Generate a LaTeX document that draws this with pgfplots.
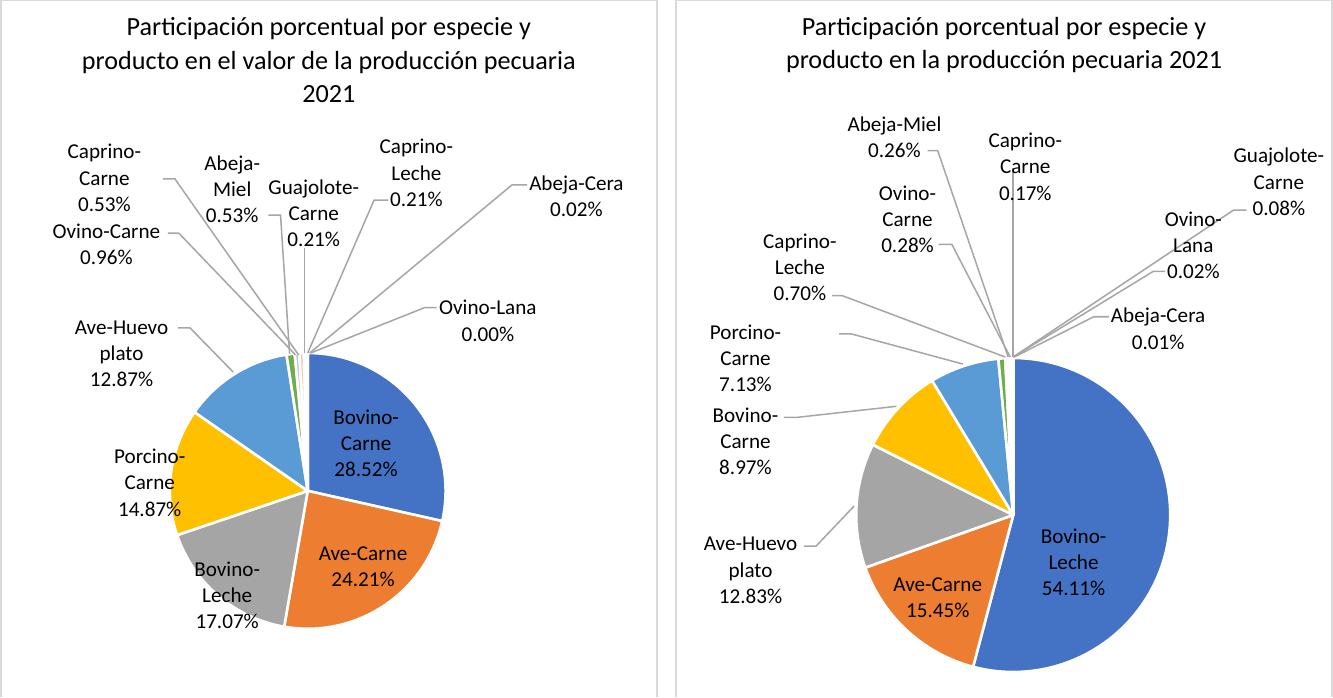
\documentclass[border=0pt]{standalone}
\usepackage{fontspec}
\setmainfont{Carlito}
\usepackage{pgfplots}
\usepackage{pgfplotstable}
\pgfplotsset{compat=1.18}

% slice colours
\definecolor{c0}{HTML}{4472C4}
\definecolor{c1}{HTML}{ED7D31}
\definecolor{c2}{HTML}{A5A5A5}
\definecolor{c3}{HTML}{FFC000}
\definecolor{c4}{HTML}{5B9BD5}
\definecolor{c5}{HTML}{70AD47}
\definecolor{c6}{HTML}{B4C7E7}
\definecolor{c7}{HTML}{F8CBAD}
\definecolor{c8}{HTML}{DBDBDB}
\definecolor{c9}{HTML}{FFE699}
\definecolor{c10}{HTML}{BDD7EE}
\definecolor{c11}{HTML}{C5E0B4}
\definecolor{frame}{HTML}{D9D9D9}
\definecolor{leader}{HTML}{A6A6A6}

% valor de la produccion (%), clockwise from 12 o'clock
\pgfplotstableread{
name pct
Bovino-Carne 28.52
Ave-Carne 24.21
Bovino-Leche 17.07
Porcino-Carne 14.87
Ave-Huevo 12.87
Ovino-Carne 0.96
Caprino-Carne 0.53
Abeja-Miel 0.53
Guajolote-Carne 0.21
Caprino-Leche 0.21
Abeja-Cera 0.02
Ovino-Lana 0.00
}\valor

% produccion (%)
\pgfplotstableread{
name pct
Bovino-Leche 54.11
Ave-Carne 15.45
Ave-Huevo 12.83
Bovino-Carne 8.97
Porcino-Carne 7.13
Caprino-Leche 0.70
Ovino-Carne 0.28
Abeja-Miel 0.26
Caprino-Carne 0.17
Guajolote-Carne 0.08
Ovino-Lana 0.02
Abeja-Cera 0.01
}\produccion

% #1 table, #2 #3 centre (axis units), #4 radius
\newcommand\drawpie[4]{%
  \pgfplotsextra{%
    \gdef\pieacc{90}%
    \pgfplotstableforeachcolumnelement{pct}\of#1\as\pieval{%
      \pgfmathsetmacro\pieend{\pieacc-3.6*\pieval}%
      \filldraw[fill=c\pgfplotstablerow, draw=white, line width=1.3pt, line join=round]
        (axis cs:#2,#3) -- ++(\pieacc:#4) arc[start angle=\pieacc, end angle=\pieend, radius=#4] -- cycle;
      \global\let\pieacc\pieend
    }%
  }%
}

\tikzset{
  lab/.style={align=center, inner sep=0pt, text=black, font=\fontsize{10.5pt}{13pt}\selectfont},
  ttl/.style={align=center, inner sep=0pt, text=black, font=\fontsize{13pt}{16.5pt}\selectfont},
  ld/.style={leader, line width=0.75pt},
}

\begin{document}
\begin{tikzpicture}
\begin{axis}[
    x=0.5pt, y=0.5pt,
    xmin=0, xmax=1333, ymin=0, ymax=698,
    scale only axis, hide axis, clip=false,
]
    % panel frames
    \draw[frame, line width=0.75pt] (axis cs:7,0) -- (axis cs:7,692) -- (axis cs:659,692) -- (axis cs:659,0);
    \draw[frame, line width=0.75pt] (axis cs:678,0) -- (axis cs:678,692) -- (axis cs:1330,692) -- (axis cs:1330,0);

    % titles
    \node[ttl] at (axis cs:333,633) {Participación porcentual por especie y\\producto en el valor de la producción pecuaria\\2021};
    \node[ttl] at (axis cs:1004,648) {Participación porcentual por especie y\\producto en la producción pecuaria 2021};

    % left pie
    \drawpie{\valor}{312}{205}{68.5pt}
    \draw[ld] (axis cs:168,515) -- (axis cs:180,515) -- (axis cs:303,340);
    \draw[ld] (axis cs:173,461) -- (axis cs:184,461) -- (axis cs:300,340);
    \draw[ld] (axis cs:273,479) -- (axis cs:285,479) -- (axis cs:294,341);
    \draw[ld] (axis cs:309,446) -- (axis cs:309,342);
    \draw[ld] (axis cs:392,494) -- (axis cs:378,494) -- (axis cs:312,342);
    \draw[ld] (axis cs:530,509) -- (axis cs:515,509) -- (axis cs:314,342);
    \draw[ld] (axis cs:440,387) -- (axis cs:428,387) -- (axis cs:315,342);
    \draw[ld] (axis cs:183,367) -- (axis cs:195,367) -- (axis cs:238,323);

    \node[lab] at (axis cs:110,516) {Caprino-\\Carne\\0.53\%};
    \node[lab] at (axis cs:112,450) {Ovino-Carne\\0.96\%};
    \node[lab] at (axis cs:237,505) {Abeja-\\Miel\\0.53\%};
    \node[lab] at (axis cs:318,481) {Guajolote-\\Carne\\0.21\%};
    \node[lab] at (axis cs:420,521) {Caprino-\\Leche\\0.21\%};
    \node[lab] at (axis cs:579,498) {Abeja-Cera\\0.02\%};
    \node[lab] at (axis cs:491,374) {Ovino-Lana\\0.00\%};
    \node[lab] at (axis cs:127,341) {Ave-Huevo\\plato\\12.87\%};
    \node[lab] at (axis cs:155,213) {Porcino-\\Carne\\14.87\%};
    \node[lab] at (axis cs:370,252) {Bovino-\\Carne\\28.52\%};
    \node[lab] at (axis cs:367,130) {Ave-Carne\\24.21\%};
    \node[lab] at (axis cs:232,101) {Bovino-\\Leche\\17.07\%};

    % right pie
    \drawpie{\produccion}{1013}{181}{78pt}
    \draw[ld] (axis cs:928,543) -- (axis cs:938,543) -- (axis cs:1008,338);
    \draw[ld] (axis cs:939,450) -- (axis cs:952,450) -- (axis cs:1010,338);
    \draw[ld] (axis cs:833,399) -- (axis cs:843,399) -- (axis cs:1005,338);
    \draw[ld] (axis cs:840,361) -- (axis cs:852,361) -- (axis cs:963,331);
    \draw[ld] (axis cs:1013,526) -- (axis cs:1013,338);
    \draw[ld] (axis cs:1245,484) -- (axis cs:1232,484) -- (axis cs:1013,338);
    \draw[ld] (axis cs:1164,423) -- (axis cs:1152,423) -- (axis cs:1013,338);
    \draw[ld] (axis cs:1108,378) -- (axis cs:1093,378) -- (axis cs:1014,338);
    \draw[ld] (axis cs:785,278) -- (axis cs:798,278) -- (axis cs:897,289);
    \draw[ld] (axis cs:805,150) -- (axis cs:817,150) -- (axis cs:855,190);

    \node[lab] at (axis cs:895,556) {Abeja-Miel\\0.26\%};
    \node[lab] at (axis cs:1025,527) {Caprino-\\Carne\\0.17\%};
    \node[lab] at (axis cs:908,475) {Ovino-\\Carne\\0.28\%};
    \node[lab] at (axis cs:801,427) {Caprino-\\Leche\\0.70\%};
    \node[lab] at (axis cs:747,337) {Porcino-\\Carne\\7.13\%};
    \node[lab] at (axis cs:747,254) {Bovino-\\Carne\\8.97\%};
    \node[lab] at (axis cs:752,126) {Ave-Huevo\\plato\\12.83\%};
    \node[lab] at (axis cs:1277,512) {Guajolote-\\Carne\\0.08\%};
    \node[lab] at (axis cs:1192,449) {Ovino-\\Lana\\0.02\%};
    \node[lab] at (axis cs:1157,366) {Abeja-Cera\\0.01\%};
    \node[lab] at (axis cs:1073,134) {Bovino-\\Leche\\54.11\%};
    \node[lab] at (axis cs:938,99) {Ave-Carne\\15.45\%};
\end{axis}
\end{tikzpicture}
\end{document}
